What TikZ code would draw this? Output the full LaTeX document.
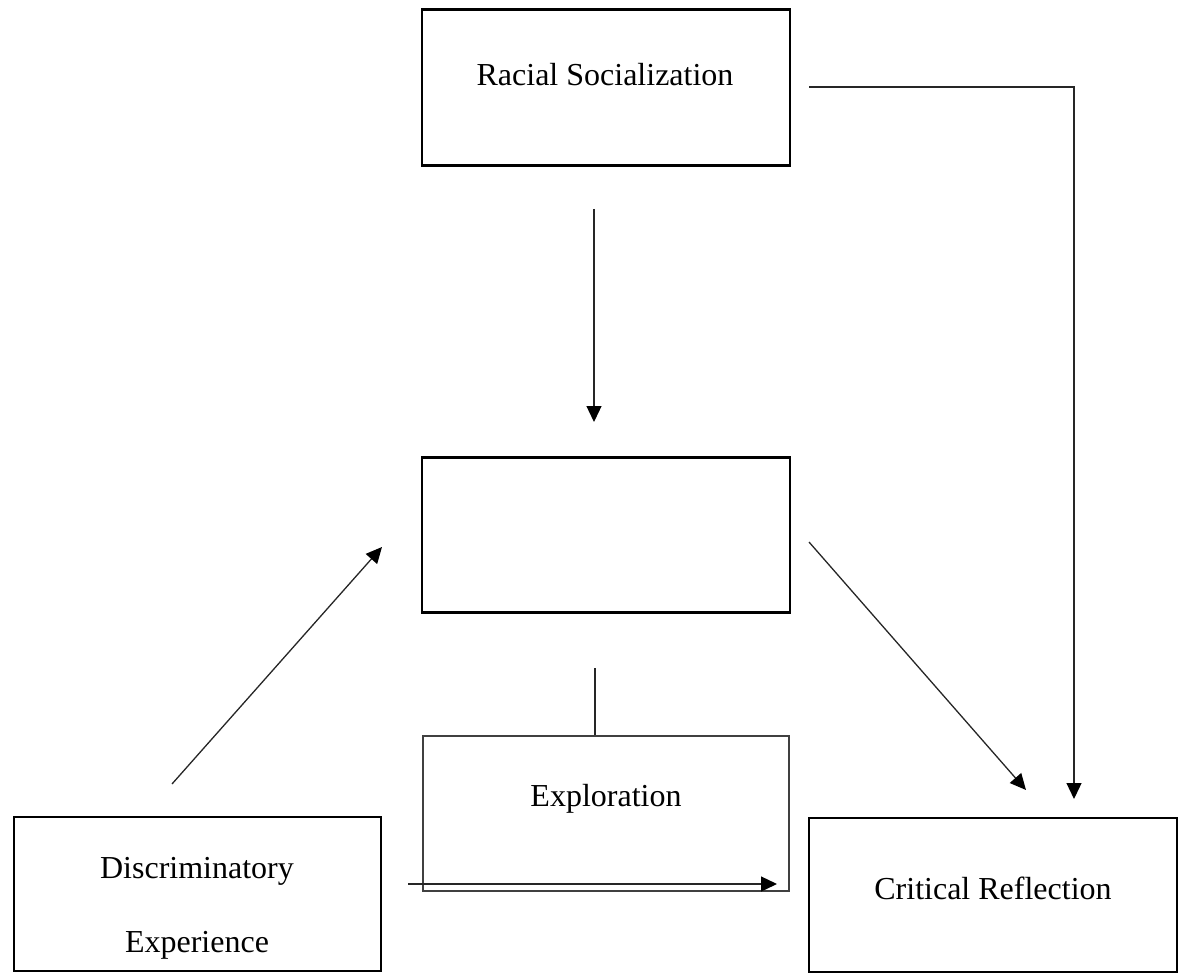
\documentclass[tikz,border=0pt]{standalone}
\usepackage{fontspec}
\setmainfont{Liberation Serif}
\usetikzlibrary{arrows.meta}
\tikzset{
  thickbox/.style={draw=black, line width=2.6pt, rectangle, inner sep=0pt},
  thinbox/.style={draw=black!75, line width=1.3pt, rectangle, inner sep=0pt},
  lbl/.style={font=\fontsize{32}{36}\selectfont, inner sep=0pt, anchor=base},
  conn/.style={draw=black!85, line width=1.3pt},
  arr/.style={conn, -{Triangle[length=16pt,width=15pt,color=black]}}
}
\begin{document}
\begin{tikzpicture}[x=1pt,y=-1pt]
\useasboundingbox (0,0) rectangle (1178,976);
% boxes
\node[thickbox, minimum width=368pt, minimum height=156pt] (rs) at (606,87.5) {};
\node[thickbox, minimum width=368pt, minimum height=155pt] (mid) at (606,535) {};
\node[thinbox, minimum width=366pt, minimum height=155pt] (ex) at (606,813.5) {};
\node[thickbox, minimum width=367pt, minimum height=154pt] (de) at (197.5,894) {};
\node[thickbox, minimum width=368pt, minimum height=154pt] (cr) at (993,895) {};
% texts
\node[lbl] (rs-t) at (605,86) {Racial Socialization};
\node[lbl] (ex-t) at (606,806) {Exploration};
\node[lbl] (de-t1) at (197,878) {Discriminatory};
\node[lbl] (de-t2) at (197,952) {Experience};
\node[lbl] (cr-t) at (993,899) {Critical Reflection};
% connector coordinates
\coordinate (a1s) at (594,209);
\coordinate (a1e) at (594,422);
\coordinate (a2s) at (809,87);
\coordinate (a2c) at (1074,87);
\coordinate (a2e) at (1074,799);
\coordinate (a3s) at (809,542);
\coordinate (a3e) at (1026,790);
\coordinate (a4s) at (172,784);
\coordinate (a4e) at (382,547);
\coordinate (a5s) at (408,884);
\coordinate (a5e) at (777,884);
\coordinate (l1s) at (595,668);
% connectors
\draw[arr] (a1s) -- (a1e);
\draw[arr] (a2s) -- (a2c) -- (a2e);
\draw[arr] (a3s) -- (a3e);
\draw[arr] (a4s) -- (a4e);
\draw[arr] (a5s) -- (a5e);
\draw[conn] (l1s) -- (ex.north -| l1s);
\end{tikzpicture}
\end{document}
